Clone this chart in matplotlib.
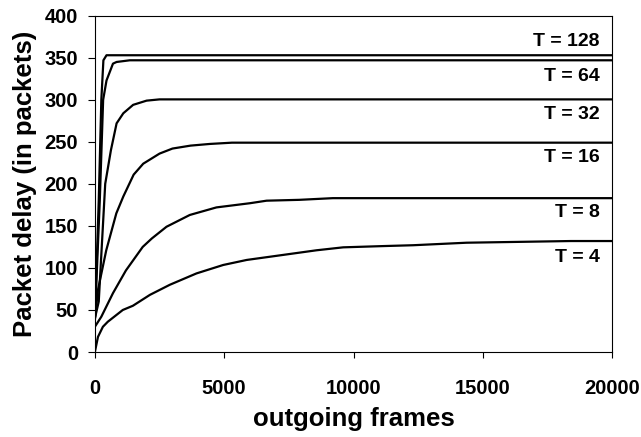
import matplotlib
matplotlib.use("Agg")
import matplotlib.pyplot as plt

plt.rcParams['font.family'] = ['Liberation Sans', 'DejaVu Sans']
plt.rcParams['font.weight'] = 'bold'

# curves (x = outgoing frames, y = packet delay)
t128_x = [0, 150, 250, 330, 450, 20000]
t128_y = [40, 180, 300, 347, 353, 353]

t64_x = [0, 190, 320, 450, 700, 840, 1350, 20000]
t64_y = [40, 180, 300, 323, 343, 345, 347, 347]

t32_x = [0, 150, 400, 620, 840, 1100, 1480, 2000, 2500, 20000]
t32_y = [40, 60, 200, 240, 272, 284, 294, 299, 300.5, 300.5]

t16_x = [0, 120, 440, 830, 1100, 1500, 1870, 2500, 3000, 3700, 4450, 5300, 20000]
t16_y = [38, 74, 121, 165, 185, 211, 224, 236, 242, 245.5, 247.5, 249, 249]

t8_x = [0, 250, 700, 1200, 1850, 2200, 2770, 3670, 4700, 6000, 6640, 7900, 9200, 20000]
t8_y = [30, 42, 70, 97, 125, 135, 149, 163, 172, 177, 180, 181, 183, 183]

t4_x = [0, 120, 310, 500, 1080, 1470, 2130, 2900, 3930, 4960, 5870, 7280, 8570,
        9600, 11150, 12300, 14370, 18400, 20000]
t4_y = [0, 18, 30, 36, 50, 55, 68, 80, 93.5, 103.5, 109.5, 115.5, 121,
        124.5, 126, 127, 130, 132, 132]

labels = ["T = 128", "T = 64", "T = 32", "T = 16", "T = 8", "T = 4"]
label_y = [369, 328, 282.6, 231, 165.6, 112]

series = [(t128_x, t128_y), (t64_x, t64_y), (t32_x, t32_y),
          (t16_x, t16_y), (t8_x, t8_y), (t4_x, t4_y)]

fig = plt.figure(figsize=(6.41, 4.37), dpi=100)
ax = fig.add_axes([0.148, 0.1945, 0.807, 0.7695])

for (xs, ys) in series:
    ax.plot(xs, ys, color='black', linewidth=1.6)

for lab, ly in zip(labels, label_y):
    ax.text(19530, ly, lab, ha='right', va='center', fontsize=14, fontweight='bold')

ax.set_xlim(0, 20000)
ax.set_ylim(0, 400)
ax.set_xticks([0, 5000, 10000, 15000, 20000])
ax.set_yticks(range(0, 401, 50))
ax.tick_params(axis='x', direction='out', length=4, width=0.8, pad=15.5, labelsize=14.5)
ax.tick_params(axis='y', direction='out', length=5, width=0.8, pad=7, labelsize=14.5)
for lbl in ax.get_xticklabels() + ax.get_yticklabels():
    lbl.set_fontweight('bold')
for sp in ax.spines.values():
    sp.set_linewidth(0.8)

ax.set_xlabel("outgoing frames", fontsize=18.5, fontweight='bold')
ax.set_ylabel("Packet delay (in packets)", fontsize=18.5, fontweight='bold')
ax.xaxis.set_label_coords(0.5, -0.165)
ax.yaxis.set_label_coords(-0.112, 0.5)

fig.savefig("out.png", dpi=100)
